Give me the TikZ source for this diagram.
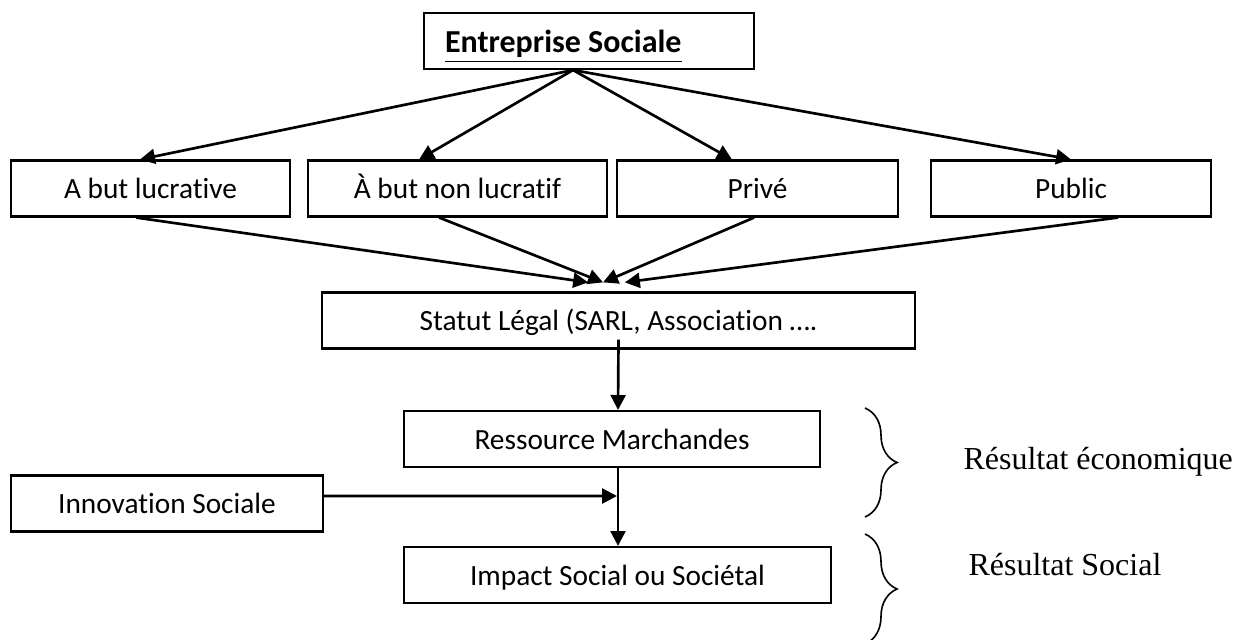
\documentclass[tikz,border=0pt]{standalone}
\usepackage{fontspec}
\setmainfont{Carlito}[Ligatures=CommonOff]
\newfontfamily\timesfont{Liberation Serif}
\usetikzlibrary{arrows.meta,decorations.pathreplacing}

\begin{document}
\begin{tikzpicture}[x=0.375pt, y=-0.375pt,
    every node/.style={font=\fontsize{11pt}{13pt}\selectfont},
    box/.style={draw, rectangle, line width=0.8pt, inner sep=0pt, minimum height=21pt,
      text height=9pt, text depth=1.2pt},
    link/.style={-{Triangle[length=5.6pt,width=5.6pt]}, line width=1pt},
    accolade/.style={decorate, decoration={brace,amplitude=12pt}, line width=0.6pt},
    result/.style={anchor=west, inner sep=0pt, font=\timesfont\fontsize{12pt}{14pt}\selectfont}]
  \useasboundingbox (0,0) rectangle (1235,640);

  % Boxes
  \node[box, text width=108pt, inner xsep=7.9pt, align=flush left, text height=11pt, text depth=2pt] (ent) at (589,41) {\fontsize{12pt}{14pt}\selectfont\bfseries\underline{Entreprise Sociale}};
  \node[box, minimum width=104.6pt] (lucr) at (150.5,188.5) {A but lucrative};
  \node[box, minimum width=112.1pt] (nonlucr) at (457.5,188.5) {À but non lucratif};
  \node[box, minimum width=105.4pt] (prive) at (757.5,188.5) {Privé};
  \node[box, minimum width=105pt] (public) at (1071,188.5) {Public};
  \node[box, minimum width=222.4pt] (statut) at (618.5,320.5) {Statut Légal (SARL, Association ….};
  \node[box, minimum width=156pt] (ress) at (612,439) {Ressource Marchandes};
  \node[box, minimum width=117pt] (innov) at (167,503.5) {Innovation Sociale};
  \node[box, minimum width=160.1pt] (impact) at (617.5,575) {Impact Social ou Sociétal};
  \coordinate (join) at (617,496);

  % Branches from the top box
  \draw[link] ([xshift=-6pt]ent.south) -- ([xshift=-3.9pt]lucr.north);
  \draw[link] ([xshift=-6pt]ent.south) -- ([xshift=-14.4pt]nonlucr.north);
  \draw[link] ([xshift=-6pt]ent.south) -- ([xshift=-9.6pt]prive.north);
  \draw[link] ([xshift=-6pt]ent.south) -- (public.north);

  % Towards the legal status
  \draw[link] ([xshift=-5.4pt]lucr.south) -- ([xshift=-11.4pt,yshift=3.4pt]statut.north);
  \draw[link] ([xshift=-6.9pt]nonlucr.south) -- ([xshift=-5.8pt,yshift=3.4pt]statut.north);
  \draw[link] ([xshift=-1.3pt]prive.south) -- ([xshift=-5.8pt,yshift=3.4pt]statut.north);
  \draw[link] ([xshift=17.6pt]public.south) -- ([xshift=2.4pt,yshift=3.4pt]statut.north);

  % Main chain
  \draw[link] ([yshift=3.75pt]statut.south) -- ([xshift=2.25pt]ress.north);
  \draw[link] ([xshift=2.25pt]ress.south) -- ([xshift=2.25pt]ress.south |- impact.north);
  \draw[link] ([yshift=2.8pt]innov.east) -- (join);

  % Results
  \draw[accolade] (865,408) -- (865,517);
  \draw[accolade] (865,534) -- (865,644);
  \node[result] (eco) at (963,462) {Résultat économique};
  \node[result] (soc) at (968,565) {Résultat Social};
\end{tikzpicture}
\end{document}
